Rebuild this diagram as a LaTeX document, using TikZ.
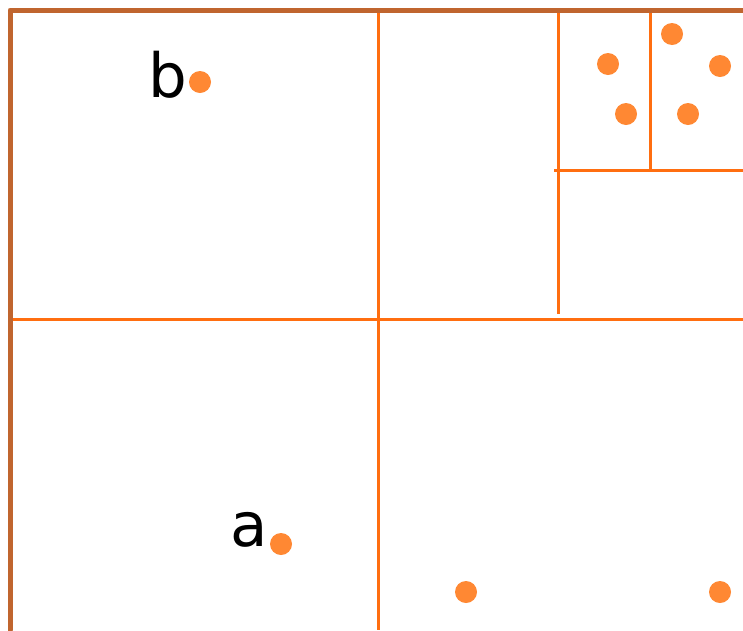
\documentclass[tikz,border=0pt]{standalone}
\usepackage{fontspec}
\setmainfont{DejaVu Sans}
\definecolor{border}{HTML}{C0652F}
\definecolor{grid}{HTML}{FF6E10}
\definecolor{pt}{HTML}{FF8833}
\begin{document}
\begin{tikzpicture}[x=1pt,y=-1pt,
  gridline/.style={grid,line width=3pt},
  borderline/.style={border,line width=5pt,line cap=round,line join=round},
  dot/.style={circle,fill=pt,inner sep=0pt,minimum size=22pt},
  lbl/.style={font=\fontsize{61}{63}\selectfont,inner sep=0pt}]
\useasboundingbox (0,0) rectangle (743,630);
% coordinates
\coordinate (tl) at (10,10);
\coordinate (tr) at (743,10);
\coordinate (bl) at (10,630);
\coordinate (m1t) at (378,10);
\coordinate (m1b) at (378,630);
\coordinate (h1l) at (10,319);
\coordinate (h1r) at (743,319);
\coordinate (v2t) at (558,10);
\coordinate (v2b) at (558,314);
\coordinate (h2l) at (554,170);
\coordinate (h2r) at (743,170);
\coordinate (v3t) at (650,10);
\coordinate (v3b) at (650,170);
% grid lines
\draw[gridline] (m1t) -- (m1b);
\draw[gridline] (h1l) -- (h1r);
\draw[gridline] (v2t) -- (v2b);
\draw[gridline] (h2l) -- (h2r);
\draw[gridline] (v3t) -- (v3b);
% border
\draw[borderline] (bl) -- (tl) -- (tr);
% points
\node[dot] (pb) at (200,82) {};
\node[dot] (pa) at (281,544) {};
\node[dot] (p1) at (466,592) {};
\node[dot] (p2) at (720,592) {};
\node[dot] (p3) at (608,64) {};
\node[dot] (p4) at (672,34) {};
\node[dot] (p5) at (720,66) {};
\node[dot] (p6) at (626,114) {};
\node[dot] (p7) at (688,114) {};
% labels
\node[lbl,anchor=base east] (lb) at (187,97) {b};
\node[lbl,anchor=base east] (la) at (268,546) {a};
\end{tikzpicture}
\end{document}
